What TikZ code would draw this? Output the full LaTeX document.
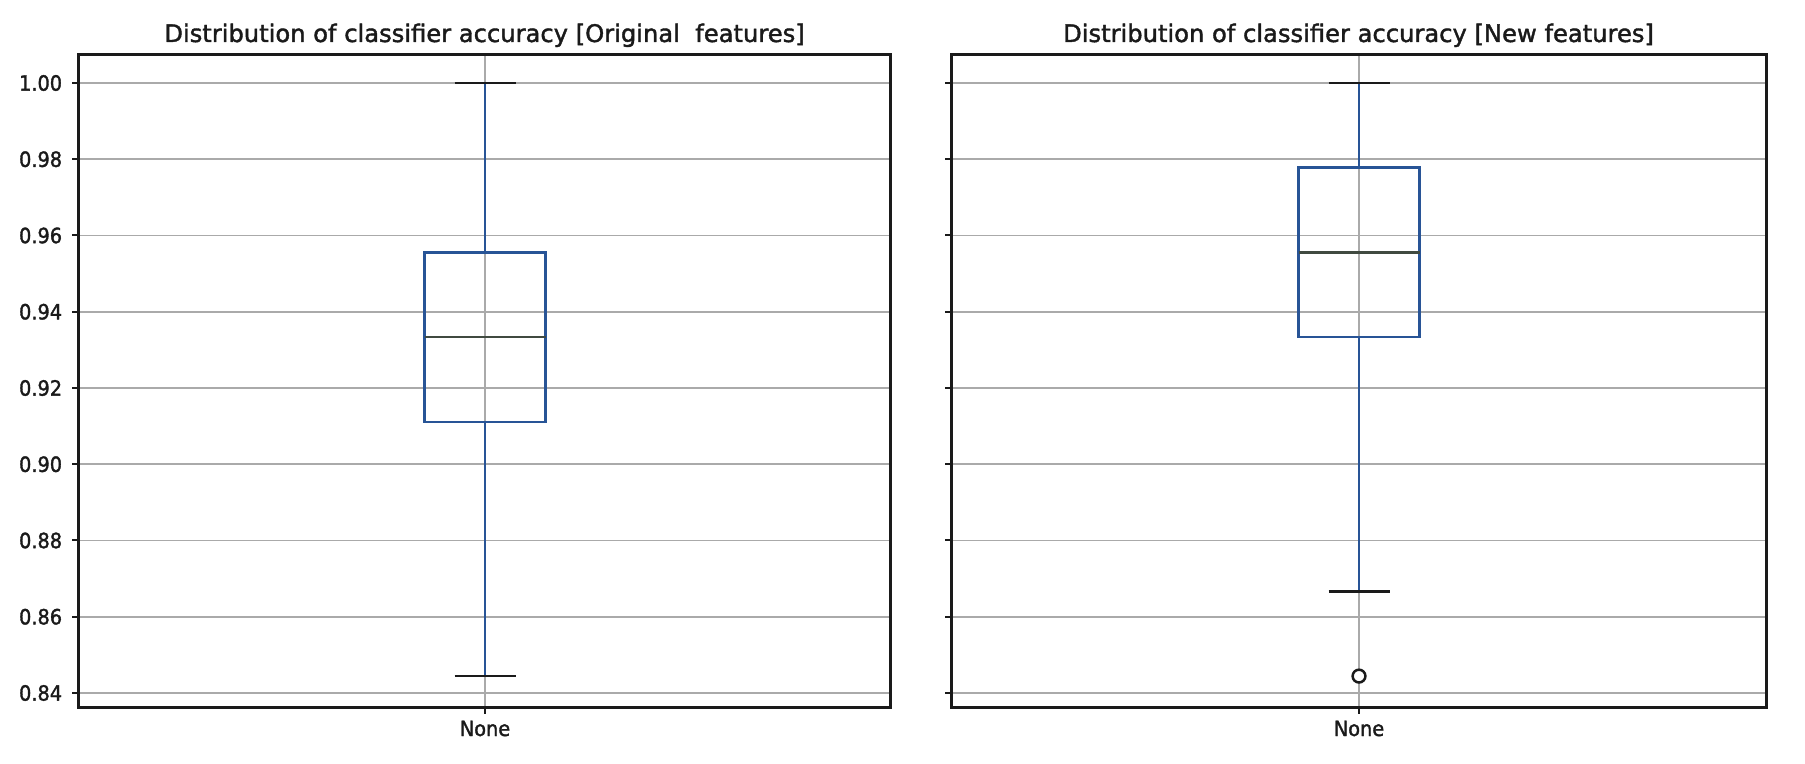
\documentclass[tikz,border=0pt]{standalone}
\usepackage{fontspec}
\setmainfont{DejaVu Sans}
\newfontfamily\tickfont{DejaVu Sans}[FakeStretch=0.92, FakeBold=1.6]
\newfontfamily\titlefont{DejaVu Sans}[FakeBold=1.6]
\definecolor{boxblue}{RGB}{40,84,150}
\definecolor{medgray}{RGB}{64,74,64}
\definecolor{gridgray}{RGB}{170,170,170}
\definecolor{inkblack}{RGB}{26,26,26}
\tikzset{
  gridline/.style={draw=gridgray, line width=0.95pt},
  axisframe/.style={draw=inkblack, line width=1.5pt},
  boxline/.style={draw=boxblue, line width=1.25pt},
  capline/.style={draw=inkblack, line width=1.25pt},
  medline/.style={draw=medgray, line width=1.25pt},
  tickmark/.style={draw=inkblack, line width=1pt},
  ticklabel/.style={font=\tickfont\fontsize{10.5pt}{12pt}\selectfont, inner sep=0pt, text=inkblack},
  titlelabel/.style={font=\titlefont\fontsize{12.1pt}{14pt}\selectfont, inner sep=0pt, anchor=base, text=inkblack},
  flier/.style={draw=inkblack, line width=1.25pt, fill=white}
}
\begin{document}
\begin{tikzpicture}[x=0.5pt,y=-0.5pt]
\path[use as bounding box] (0,0) rectangle (1805,764);
% ---------- grid lines ----------
\foreach \yy in {83,159.25,235.5,311.75,388,464.25,540.5,616.75,693} {
  \draw[gridline] (78.5,\yy) -- (890,\yy);
  \draw[gridline] (951.5,\yy) -- (1766,\yy);
}
\draw[gridline] (485,55) -- (485,707);
\draw[gridline] (1359,55) -- (1359,707);
% ---------- left box plot ----------
\draw[boxline] (485,83) -- (485,252.4);
\draw[boxline] (485,421.9) -- (485,676.1);
\draw[boxline] (424.5,252.4) rectangle (545.5,421.9);
\draw[medline] (424.5,337.2) -- (545.5,337.2);
\draw[capline] (454.5,83) -- (515.5,83);
\draw[capline] (454.5,676.1) -- (515.5,676.1);
% ---------- right box plot ----------
\draw[boxline] (1359,83) -- (1359,167.7);
\draw[boxline] (1359,337.2) -- (1359,591.3);
\draw[boxline] (1298.5,167.7) rectangle (1419.5,337.2);
\draw[medline] (1298.5,252.4) -- (1419.5,252.4);
\draw[capline] (1328.5,83) -- (1389.5,83);
\draw[capline] (1328.5,591.3) -- (1389.5,591.3);
\draw[flier] (1359,676.1) circle[radius=3.2pt];
% ---------- axes frames ----------
\draw[axisframe] (78.5,55) rectangle (890,707);
\draw[axisframe] (951.5,55) rectangle (1766,707);
% ---------- y ticks ----------
\foreach \yy/\lab in {83/1.00,159.25/0.98,235.5/0.96,311.75/0.94,388/0.92,464.25/0.90,540.5/0.88,616.75/0.86,693/0.84} {
  \draw[tickmark] (78.5,\yy) -- (72,\yy);
  \draw[tickmark] (951.5,\yy) -- (945,\yy);
  \node[ticklabel, anchor=east] (yl\lab) at (62.5,\yy) {\lab};
}
% ---------- x ticks ----------
\draw[tickmark] (485,707) -- (485,714);
\draw[tickmark] (1359,707) -- (1359,714);
\node[ticklabel, anchor=base] (xl1) at (485,736) {None};
\node[ticklabel, anchor=base] (xl2) at (1359,736) {None};
% ---------- titles ----------
\node[titlelabel] (t1) at (484.5,42) {Distribution of classifier accuracy [Original\ \ features]};
\node[titlelabel] (t2) at (1358.5,42) {Distribution of classifier accuracy [New features]};
\end{tikzpicture}
\end{document}
